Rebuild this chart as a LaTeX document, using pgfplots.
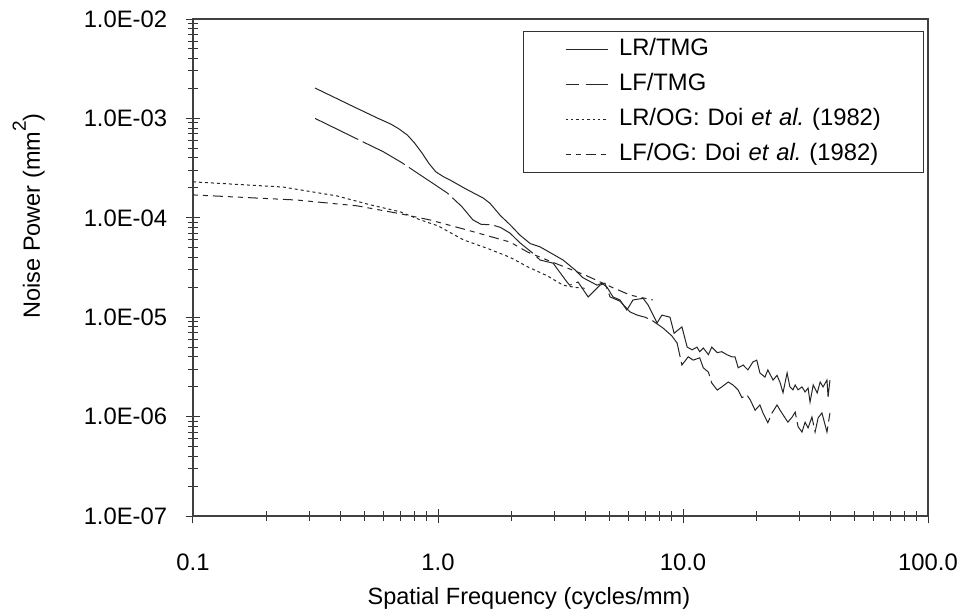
\documentclass[border=0pt]{standalone}
\usepackage{fontspec}
\setmainfont{Liberation Sans}
\usepackage{pgfplots}
\pgfplotsset{compat=1.18}

\begin{document}
\begin{tikzpicture}[font=\fontsize{11.75bp}{14bp}\selectfont]
\begin{loglogaxis}[
    name=ax,
    scale only axis,
    width=367.5bp, height=248.5bp,
    xmin=0.1, xmax=100, ymin=1e-7, ymax=1e-2,
    xtick={0.1,1,10,100},
    xticklabels={0.1,1.0,10.0,100.0},
    ytick={1e-7,1e-6,1e-5,1e-4,1e-3,1e-2},
    yticklabels={1.0E-07,1.0E-06,1.0E-05,1.0E-04,1.0E-03,1.0E-02},
    tick pos=left,
    tick align=center,
    major tick length=7.5bp, minor tick length=5bp,
    every tick/.style={black!80, line width=0.5bp},
    axis line style={black!75, line width=0.6bp},
    tick label style={font=\fontsize{11.9bp}{14bp}\selectfont},
    xticklabel style={anchor=base, inner sep=0pt, yshift=-23.5bp},
    yticklabel style={anchor=east, inner sep=0pt, xshift=-9bp},
    xlabel={Spatial Frequency (cycles/mm)},
    xlabel style={at={(axis description cs:0.457,-0.179)}, anchor=base},
    ylabel={Noise Power (mm\raisebox{0.6em}{\fontsize{9.5bp}{11bp}\selectfont 2})},
    ylabel style={at={(axis description cs:-0.192,0.604)}, anchor=south},
    legend cell align=left,
    legend image code/.code={\path[draw=none, fill=none] (-12bp,0bp) -- (0bp,0bp); \draw[#1] (0bp,0bp) -- (21bp,0bp);},
    legend style={at={(axis description cs:0.449,0.976)}, anchor=north west,
        draw=black!80, line width=0.5bp,
        inner xsep=9bp, inner ysep=3.5bp, row sep=6.5bp,
        font=\fontsize{11.9bp}{14bp}\selectfont,
        nodes={inner sep=0pt, text height=8.5bp, text depth=2.5bp, text width=143bp, align=left},
        /tikz/every odd column/.append style={column sep=5.5bp}},
]

% legend samples
\addlegendimage{black!85, line width=0.5bp}
\addlegendentry{LR/TMG}
\addlegendimage{black!85, line width=0.5bp, dash pattern=on 11bp off 3.5bp, dash phase=4.5bp}
\addlegendentry{LF/TMG}
\addlegendimage{black!85, line width=0.5bp, dash pattern=on 1.2bp off 1.5bp}
\addlegendentry{LR/OG: Doi \textit{et al.}\ (1982)}
\addlegendimage{black!85, line width=0.5bp, dash pattern=on 2.5bp off 2.5bp on 2.5bp off 2.5bp on 5bp off 2.5bp}
\addlegendentry{LF/OG: Doi \textit{et al.}\ (1982)}

% LR/TMG
\addplot[forget plot, black!85, line width=0.5bp] coordinates {
(0.315,2.02e-3) (0.45,1.32e-3) (0.57,1.0e-3) (0.64,8.8e-4) (0.69,7.9e-4)
(0.75,6.8e-4) (0.8,5.7e-4) (0.86,4.5e-4) (0.92,3.5e-4) (0.98,2.9e-4)
(1.05,2.6e-4) (1.12,2.4e-4) (1.3,1.95e-4) (1.53,1.58e-4)
(1.63,1.4e-4) (1.8,1.05e-4) (1.97,8.5e-5) (2.16,6.7e-5) (2.38,5.5e-5)
(2.61,5.1e-5) (2.9,4.4e-5) (3.24,3.76e-5) (3.62,3.0e-5) (3.9,2.5e-5)
(4.46,2.1e-5) (4.67,2.2e-5) (4.9,2.0e-5) (5.18,1.6e-5) (5.53,1.49e-5)
(5.9,1.18e-5) (6.25,1.49e-5) (6.87,1.55e-5) (7.2,1.33e-5) (7.84,8.75e-6)
(8.2,1.05e-5) (8.85,1.0e-5) (9.2,6.9e-6) (9.9,8.0e-6) (10.4,5.0e-6)
(10.9,4.7e-6) (11.4,5.0e-6) (11.7,4.5e-6) (12.1,4.9e-6) (12.7,4.2e-6)
(13.1,5.0e-6) (13.8,4.4e-6) (14.4,4.5e-6) (15.1,4.2e-6) (15.8,4.0e-6)
(16.3,4.0e-6) (16.8,3.1e-6) (17.6,3.3e-6) (18.4,2.95e-6) (19.3,3.55e-6)
(20.0,3.7e-6) (20.6,2.75e-6) (21.6,2.5e-6) (22.2,2.95e-6) (23.3,2.33e-6)
(24.2,2.6e-6) (24.9,2.2e-6) (25.6,1.74e-6) (26.6,2.75e-6) (27.3,2.0e-6)
(28.1,1.86e-6) (28.7,2.08e-6) (29.5,1.86e-6) (30.6,1.99e-6) (31.5,1.77e-6)
(32.4,1.94e-6) (33.0,1.40e-6) (34.0,2.08e-6) (35.3,1.73e-6) (36.3,2.23e-6)
(37.3,1.99e-6) (38.7,2.33e-6) (39.1,1.58e-6) (39.8,2.33e-6)
};

% LF/TMG
\addplot[forget plot, black!85, line width=0.5bp, dash pattern=on 24bp off 2.5bp] coordinates {
(0.315,1.0e-3) (0.45,6.5e-4) (0.60,4.6e-4) (0.71,3.6e-4) (0.9,2.44e-4)
(1.09,1.78e-4) (1.25,1.3e-4) (1.39,9.5e-5) (1.5,8.6e-5) (1.66,8.5e-5)
(1.8,8.0e-5) (1.97,7.0e-5) (2.16,5.6e-5) (2.44,4.4e-5) (2.61,3.76e-5)
(2.95,3.5e-5) (3.36,2.26e-5) (3.45,2.1e-5) (3.73,2.26e-5) (4.1,1.6e-5)
(4.58,2.1e-5) (4.8,2.2e-5) (5.04,1.6e-5) (5.53,1.45e-5) (6.08,1.13e-5)
(6.5,1.05e-5) (7.0,1.0e-5) (7.47,9.3e-6) (8.28,7.8e-6) (9.0,6.5e-6)
(9.46,5.5e-6) (9.9,3.3e-6) (10.5,4.0e-6) (11.0,3.7e-6) (11.7,3.9e-6)
(12.1,3.1e-6) (12.7,2.8e-6) (13.1,2.18e-6) (13.8,1.85e-6) (14.4,1.99e-6)
(15.3,2.23e-6) (16.0,2.08e-6) (16.8,1.85e-6) (17.4,1.55e-6) (18.2,1.66e-6)
(18.8,1.48e-6) (19.7,1.16e-6) (20.6,1.31e-6) (21.2,1.09e-6) (22.2,8.7e-7)
(23.1,1.09e-6) (24.2,1.31e-6) (24.9,1.16e-6) (26.1,9.7e-7) (26.8,8.8e-7)
(27.9,9.9e-7) (28.7,1.11e-6) (29.5,7.9e-7) (30.6,7.0e-7) (31.5,8.8e-7)
(32.4,7.7e-7) (33.6,9.9e-7) (34.6,7.0e-7) (35.6,9.7e-7) (36.9,1.09e-6)
(38.7,7.0e-7) (39.8,1.09e-6)
};

% LR/OG Doi et al.
\addplot[forget plot, black!85, line width=0.5bp, dash pattern=on 1.5bp off 1.5bp] coordinates {
(0.1,2.3e-4) (0.233,2.04e-4) (0.387,1.66e-4) (0.53,1.35e-4) (0.70,1.15e-4)
(0.85,9.5e-5) (1.0,8.3e-5) (1.27,6.0e-5) (1.6,4.9e-5) (1.97,4.0e-5)
(2.33,3.2e-5) (2.8,2.6e-5) (3.24,2.1e-5) (3.6,2.0e-5) (4.0,1.95e-5)
};

% LF/OG Doi et al.
\addplot[forget plot, black!85, line width=0.5bp, dash pattern=on 2.5bp off 2.5bp on 2.5bp off 2.5bp on 5bp off 2.5bp] coordinates {
(0.1,1.7e-4) (0.265,1.51e-4) (0.467,1.32e-4) (0.70,1.1e-4) (0.93,9.5e-5)
(1.3,7.6e-5) (1.97,5.7e-5) (2.33,4.5e-5) (3.0,3.5e-5) (3.98,2.66e-5)
(5.13,2.0e-5) (6.08,1.67e-5) (7.54,1.49e-5)
};

\end{loglogaxis}
\pgfresetboundingbox
\path[use as bounding box] ([shift={(-96.5bp,-46.5bp)}]ax.south west) rectangle ([shift={(16.5bp,9.5bp)}]ax.north east);
\end{tikzpicture}
\end{document}
